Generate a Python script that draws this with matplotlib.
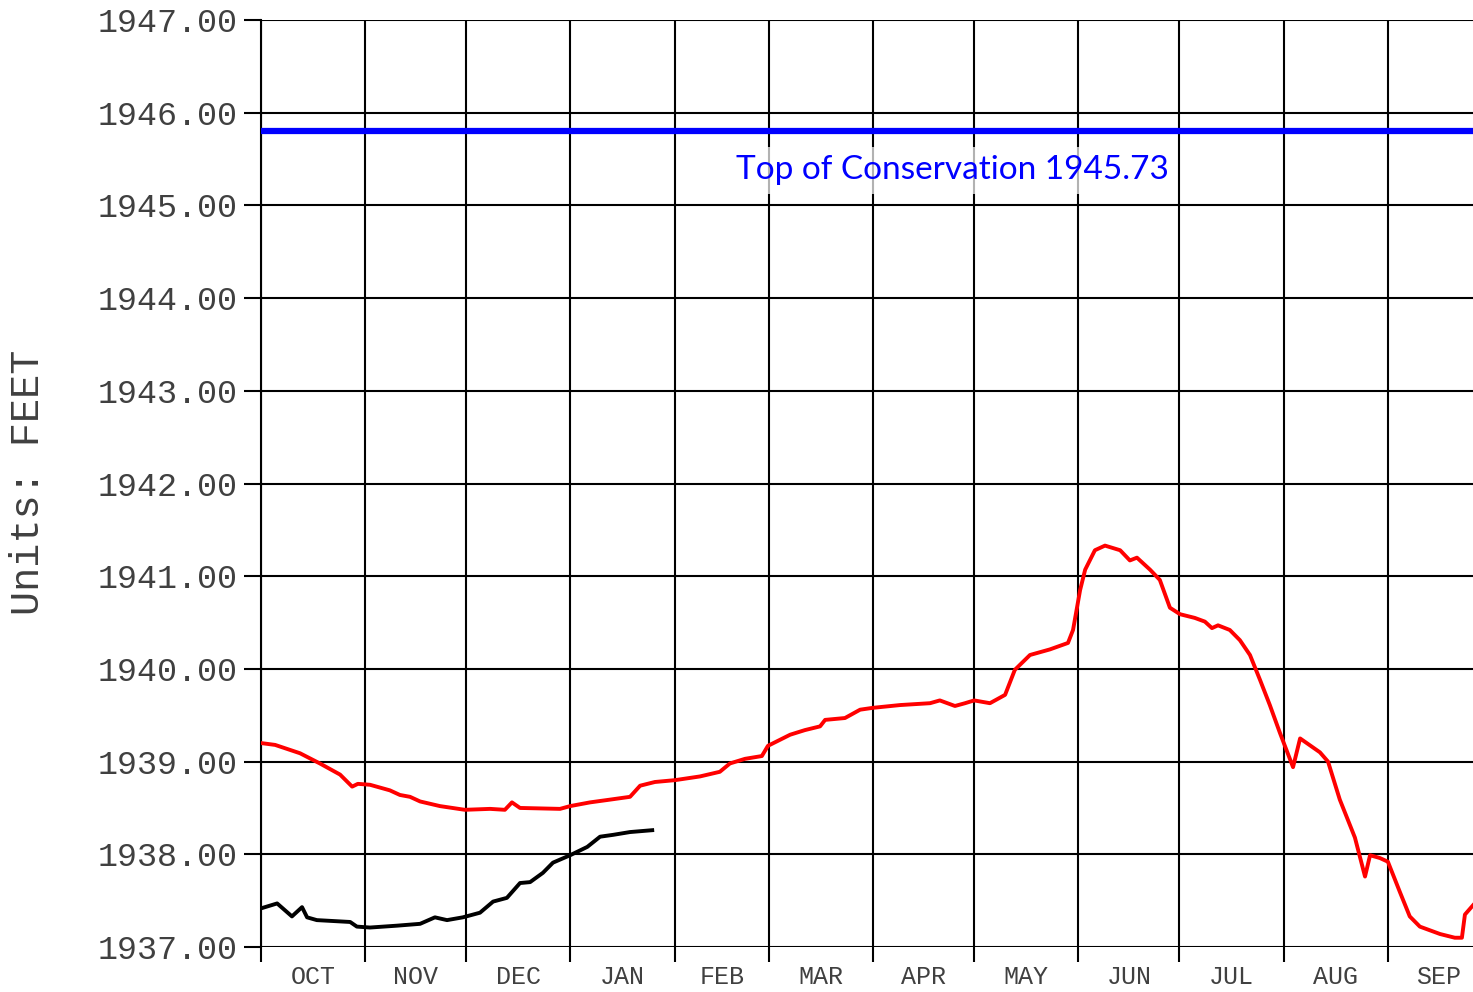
#!/usr/bin/env python3

# reservoir elevation, water year view: last year (red) vs this year (black)

import matplotlib
matplotlib.use('Agg')
from matplotlib import pyplot as plt

# month starts, days since Oct 1
MONTH_START = [0, 31, 61, 92, 123, 151, 182, 212, 243, 273, 304, 335, 365]
MONTHS = ['OCT', 'NOV', 'DEC', 'JAN', 'FEB', 'MAR', 'APR', 'MAY', 'JUN', 'JUL', 'AUG', 'SEP']

TOP_OF_CONSERVATION = 1945.8
TOC_LABEL = 'Top of Conservation 1945.73'

# last water year
last_day = [0, 4.2, 11.6, 17.5, 23.5, 27.1, 28.8, 32.4, 38.3, 41.3, 44.3, 47.3, 53.2, 60.6,
            68.1, 72.5, 74.6, 77.0, 88.9, 91.9, 97.8, 103.8, 109.7, 112.7, 117.1, 123.1,
            130.5, 136.4, 139.4, 143.9, 148.9, 150.7, 157.3, 161.7, 166.2, 167.7, 173.6,
            178.1, 181.9, 190.0, 198.9, 201.8, 206.3, 209.3, 212.0, 216.7, 221.2, 224.1,
            228.6, 234.5, 239.9, 241.4, 243.5, 245.0, 247.9, 250.9, 255.4, 258.3, 260.4,
            264.3, 267.2, 270.2, 273.2, 277.6, 280.6, 282.7, 284.5, 288.0, 291.0, 294.0,
            297.0, 299.9, 302.9, 306.8, 308.9, 314.8, 317.2, 320.7, 325.2, 328.2, 329.7,
            332.6, 335.0, 338.6, 341.5, 344.5, 347.5, 350.5, 354.9, 357.0, 357.9, 360.3]
last_elev = [1939.20, 1939.18, 1939.09, 1938.98, 1938.86, 1938.73, 1938.76, 1938.75, 1938.69,
             1938.64, 1938.62, 1938.57, 1938.52, 1938.48, 1938.49, 1938.48, 1938.56, 1938.50,
             1938.49, 1938.52, 1938.56, 1938.59, 1938.62, 1938.74, 1938.78, 1938.80, 1938.84,
             1938.89, 1938.98, 1939.03, 1939.06, 1939.17, 1939.29, 1939.34, 1939.38, 1939.45,
             1939.47, 1939.56, 1939.58, 1939.61, 1939.63, 1939.66, 1939.60, 1939.63, 1939.66,
             1939.63, 1939.72, 1939.99, 1940.15, 1940.21, 1940.28, 1940.42, 1940.85, 1941.07,
             1941.28, 1941.33, 1941.28, 1941.17, 1941.20, 1941.07, 1940.96, 1940.66, 1940.59,
             1940.55, 1940.51, 1940.44, 1940.47, 1940.42, 1940.31, 1940.15, 1939.88, 1939.61,
             1939.31, 1938.94, 1939.25, 1939.10, 1939.00, 1938.59, 1938.18, 1937.76, 1937.99,
             1937.96, 1937.92, 1937.59, 1937.33, 1937.22, 1937.18, 1937.14, 1937.10, 1937.10,
             1937.35, 1937.45]

# current water year
this_day = [0.3, 4.8, 9.2, 12.2, 13.7, 16.6, 26.5, 28.5, 32.4, 40.4, 47.3, 51.7, 55.3, 60.0,
            65.1, 69.0, 73.1, 77.0, 80.0, 83.8, 86.8, 91.9, 97.0, 100.8, 104.7, 109.7, 116.3]
this_elev = [1937.42, 1937.47, 1937.33, 1937.43, 1937.32, 1937.29, 1937.27, 1937.22, 1937.21,
             1937.23, 1937.25, 1937.32, 1937.29, 1937.32, 1937.37, 1937.49, 1937.53, 1937.69,
             1937.70, 1937.80, 1937.91, 1937.99, 1938.08, 1938.19, 1938.21, 1938.24, 1938.26]

MONO = ['Liberation Mono', 'DejaVu Sans Mono']
GRAY = '#404040'

fig = plt.figure(figsize=(14.73, 9.92), dpi=100)
ax = fig.add_axes([261 / 1473, 1 - 947 / 992, 1 - 261 / 1473, (947 - 20) / 992])

ax.set_yticks(range(1937, 1948))
ax.set_yticklabels([f'{v:.2f}' for v in range(1937, 1948)], fontfamily=MONO, fontsize=24, color=GRAY)
ax.set_xticks(MONTH_START)
ax.set_xticklabels([])
mids = [(MONTH_START[i] + MONTH_START[i + 1]) / 2 for i in range(12)]
ax.set_xticks(mids, minor=True)
ax.set_xticklabels(MONTHS, minor=True, fontfamily=MONO, fontsize=18, color=GRAY)
ax.tick_params(axis='x', which='minor', length=0, pad=13)
ax.tick_params(axis='x', which='major', length=11, width=1.5, direction='out')
ax.tick_params(axis='y', length=12, width=1.5, direction='out', pad=5)

# limits after ticks, else the 365 tick widens the view
ax.set_xlim(0, 360.3)
ax.set_ylim(1937, 1947)

ax.grid(True, which='major', color='black', linewidth=1.5)
ax.set_axisbelow(True)
for side in ['top', 'right', 'bottom']:
    ax.spines[side].set_visible(False)
ax.spines['left'].set_linewidth(1.5)

ax.axhline(TOP_OF_CONSERVATION, color='#0000ff', linewidth=4.5, zorder=3)
ax.text(205.5, 1945.38, TOC_LABEL, color='#0000ff', fontsize=24, fontfamily=['Lato', 'DejaVu Sans'],
        ha='center', va='center', zorder=4,
        bbox=dict(facecolor='white', edgecolor='none', alpha=0.7, pad=6))

ax.plot(last_day, last_elev, color='#ff0000', linewidth=2.8, zorder=5)
ax.plot(this_day, this_elev, color='black', linewidth=2.8, zorder=5)

fig.text(0.019, 0.514, 'Units: FEET', rotation=90, fontfamily=MONO, fontsize=29, color=GRAY,
         ha='center', va='center')

fig.savefig('out.png', dpi=100)
